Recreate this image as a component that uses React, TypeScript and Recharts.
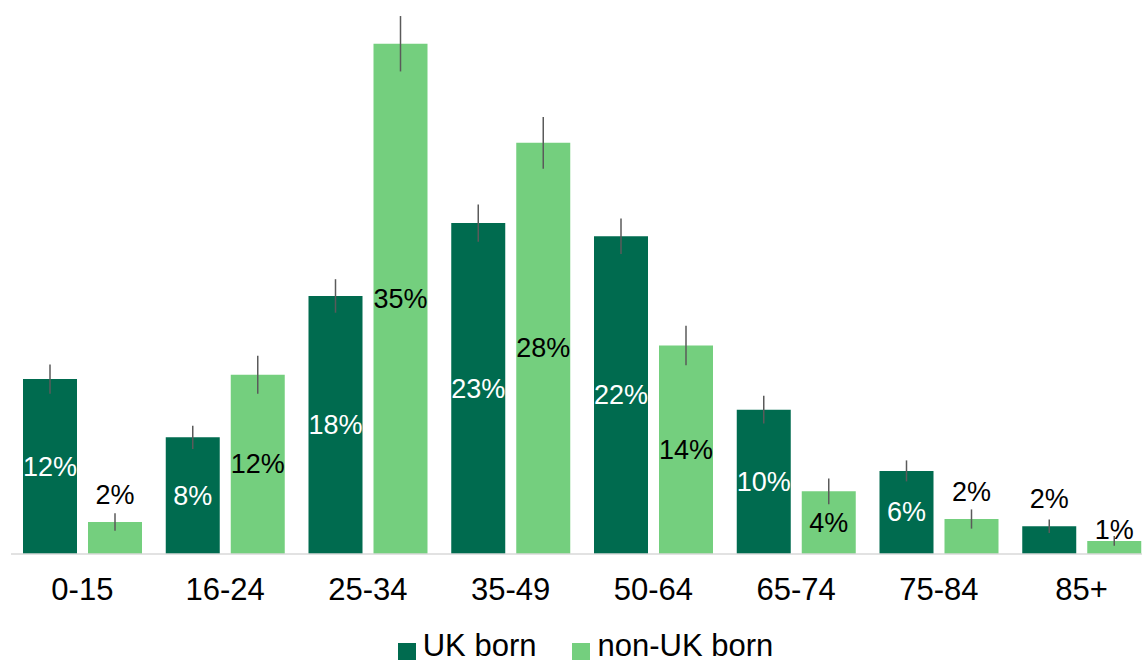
import React from 'react';
import { BarChart, Bar, XAxis, YAxis, Legend, ErrorBar, LabelList } from 'recharts';

const categories = ['0-15', '16-24', '25-34', '35-49', '50-64', '65-74', '75-84', '85+'];
const ukBorn = [12.0, 8.0, 17.7, 22.7, 21.8, 9.9, 5.7, 1.9];
const nonUkBorn = [2.2, 12.3, 35.0, 28.2, 14.3, 4.3, 2.4, 0.9];
const ukErr = [1.0, 0.8, 1.15, 1.28, 1.22, 0.95, 0.72, 0.46];
const nonUkErr = [0.6, 1.3, 1.9, 1.77, 1.35, 0.88, 0.66, 0.34];
const ukLabels = ['12%', '8%', '18%', '23%', '22%', '10%', '6%', '2%'];
const nonUkLabels = ['2%', '12%', '35%', '28%', '14%', '4%', '2%', '1%'];

const DARK = '#006B4F';
const LIGHT = '#74CF7E';
const FONT = '"Liberation Sans", Arial, sans-serif';

const data = categories.map((cat, i) => ({
  cat,
  uk: ukBorn[i],
  nonUk: nonUkBorn[i],
  ukErr: ukErr[i],
  nonUkErr: nonUkErr[i],
  ukLabel: ukLabels[i],
  nonUkLabel: nonUkLabels[i],
}));

const makeLabel = (insideColor: string) => (props: any) => {
  const { x, y, width, height, value } = props;
  const cx = Number(x) + Number(width) / 2;
  const h = Number(height);
  let cy: number;
  let fill = insideColor;
  if (h >= 40) {
    cy = Number(y) + h / 2;
  } else {
    cy = Number(y) - (h < 20 ? 11 : 27);
    fill = '#000000';
  }
  return (
    <text
      x={cx}
      y={cy}
      textAnchor="middle"
      dominantBaseline="central"
      fontFamily={FONT}
      fontSize={27}
      fill={fill}
    >
      {value}
    </text>
  );
};

const LegendContent = () => (
  <div
    style={{
      height: 58,
      display: 'flex',
      justifyContent: 'center',
      alignItems: 'flex-end',
      paddingLeft: 7,
      paddingBottom: 1,
      fontFamily: FONT,
      fontSize: 31,
      lineHeight: '30px',
      color: '#000',
      boxSizing: 'border-box',
    }}
  >
    {[
      { name: 'UK born', color: DARK },
      { name: 'non-UK born', color: LIGHT },
    ].map((it, i) => (
      <div
        key={it.name}
        style={{ display: 'flex', alignItems: 'flex-end', marginLeft: i === 0 ? 0 : 36 }}
      >
        <div style={{ width: 18, height: 17, background: it.color, marginBottom: 1, marginRight: 7 }} />
        <span style={{ whiteSpace: 'nowrap' }}>{it.name}</span>
      </div>
    ))}
  </div>
);

export default function App() {
  return (
    <div
      style={{
        position: 'absolute',
        left: 0,
        top: 0,
        width: 1142,
        height: 662,
        overflow: 'hidden',
        background: '#fff',
      }}
    >
      <BarChart
        width={1160}
        height={662}
        data={data}
        margin={{ top: 0, right: 7, left: 11, bottom: 0 }}
        barSize={54}
        barGap={11}
      >
        <XAxis
          dataKey="cat"
          axisLine={{ stroke: '#D9D9D9', strokeWidth: 1.5 }}
          tickLine={false}
          tickSize={0}
          tickMargin={24}
          height={50}
          tick={{ fontFamily: FONT, fontSize: 31, fill: '#000' }}
          interval={0}
        />
        <YAxis hide domain={[0, 38]} />
        <Legend verticalAlign="bottom" height={58} content={<LegendContent />} />
        <Bar dataKey="uk" name="UK born" fill={DARK} isAnimationActive={false}>
          <ErrorBar dataKey="ukErr" width={0} stroke="#5A5A5A" strokeWidth={1.5} direction="y" />
          <LabelList dataKey="ukLabel" content={makeLabel('#FFFFFF')} />
        </Bar>
        <Bar dataKey="nonUk" name="non-UK born" fill={LIGHT} isAnimationActive={false}>
          <ErrorBar dataKey="nonUkErr" width={0} stroke="#5A5A5A" strokeWidth={1.5} direction="y" />
          <LabelList dataKey="nonUkLabel" content={makeLabel('#000000')} />
        </Bar>
      </BarChart>
    </div>
  );
}
